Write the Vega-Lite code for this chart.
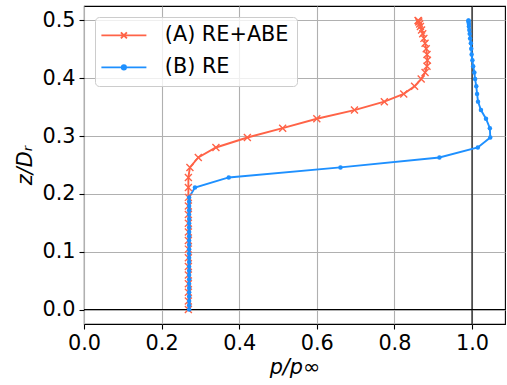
{
  "$schema": "https://vega.github.io/schema/vega-lite/v6.json",
  "width": 421,
  "height": 318,
  "autosize": {"type": "none"},
  "padding": {"left": 84, "top": 6, "right": 2, "bottom": 61},
  "background": "white",
  "config": {
    "view": {"stroke": "black", "strokeWidth": 1.1},
    "axis": {
      "domain": false,
      "grid": true,
      "gridColor": "#b0b0b0",
      "gridWidth": 1.1,
      "tickColor": "black",
      "tickSize": 5,
      "tickWidth": 1.1,
      "labelFlush": false,
      "labelFont": "DejaVu Sans",
      "labelFontSize": 20.8,
      "labelColor": "black",
      "labelPadding": 4,
      "titleFont": "DejaVu Sans",
      "titleFontSize": 20.8,
      "titleFontWeight": "normal",
      "titleFontStyle": "italic",
      "titleColor": "black"
    }
  },
  "datasets": {
    "profiles": [
      {"series": "(A) RE+ABE", "z": 0.0, "p": 0.269},
      {"series": "(A) RE+ABE", "z": 0.0149, "p": 0.269},
      {"series": "(A) RE+ABE", "z": 0.0298, "p": 0.269},
      {"series": "(A) RE+ABE", "z": 0.0448, "p": 0.269},
      {"series": "(A) RE+ABE", "z": 0.0597, "p": 0.269},
      {"series": "(A) RE+ABE", "z": 0.0746, "p": 0.269},
      {"series": "(A) RE+ABE", "z": 0.0895, "p": 0.269},
      {"series": "(A) RE+ABE", "z": 0.1045, "p": 0.269},
      {"series": "(A) RE+ABE", "z": 0.1194, "p": 0.269},
      {"series": "(A) RE+ABE", "z": 0.1343, "p": 0.269},
      {"series": "(A) RE+ABE", "z": 0.1492, "p": 0.269},
      {"series": "(A) RE+ABE", "z": 0.1642, "p": 0.269},
      {"series": "(A) RE+ABE", "z": 0.1791, "p": 0.269},
      {"series": "(A) RE+ABE", "z": 0.194, "p": 0.269},
      {"series": "(A) RE+ABE", "z": 0.211, "p": 0.269},
      {"series": "(A) RE+ABE", "z": 0.2285, "p": 0.269},
      {"series": "(A) RE+ABE", "z": 0.2458, "p": 0.273},
      {"series": "(A) RE+ABE", "z": 0.263, "p": 0.2946},
      {"series": "(A) RE+ABE", "z": 0.2803, "p": 0.34},
      {"series": "(A) RE+ABE", "z": 0.2976, "p": 0.421},
      {"series": "(A) RE+ABE", "z": 0.3137, "p": 0.512},
      {"series": "(A) RE+ABE", "z": 0.33, "p": 0.6},
      {"series": "(A) RE+ABE", "z": 0.345, "p": 0.697},
      {"series": "(A) RE+ABE", "z": 0.3596, "p": 0.774},
      {"series": "(A) RE+ABE", "z": 0.373, "p": 0.824},
      {"series": "(A) RE+ABE", "z": 0.3862, "p": 0.852},
      {"series": "(A) RE+ABE", "z": 0.3986, "p": 0.869},
      {"series": "(A) RE+ABE", "z": 0.41, "p": 0.879},
      {"series": "(A) RE+ABE", "z": 0.4207, "p": 0.884},
      {"series": "(A) RE+ABE", "z": 0.431, "p": 0.885},
      {"series": "(A) RE+ABE", "z": 0.4412, "p": 0.884},
      {"series": "(A) RE+ABE", "z": 0.451, "p": 0.882},
      {"series": "(A) RE+ABE", "z": 0.4604, "p": 0.879},
      {"series": "(A) RE+ABE", "z": 0.469, "p": 0.876},
      {"series": "(A) RE+ABE", "z": 0.4768, "p": 0.873},
      {"series": "(A) RE+ABE", "z": 0.4836, "p": 0.87},
      {"series": "(A) RE+ABE", "z": 0.4894, "p": 0.867},
      {"series": "(A) RE+ABE", "z": 0.494, "p": 0.865},
      {"series": "(A) RE+ABE", "z": 0.4973, "p": 0.863},
      {"series": "(A) RE+ABE", "z": 0.4993, "p": 0.862},
      {"series": "(A) RE+ABE", "z": 0.5, "p": 0.861},
      {"series": "(B) RE", "z": 0.0, "p": 0.271},
      {"series": "(B) RE", "z": 0.0075, "p": 0.271},
      {"series": "(B) RE", "z": 0.0149, "p": 0.271},
      {"series": "(B) RE", "z": 0.0224, "p": 0.271},
      {"series": "(B) RE", "z": 0.0298, "p": 0.271},
      {"series": "(B) RE", "z": 0.0373, "p": 0.271},
      {"series": "(B) RE", "z": 0.0448, "p": 0.271},
      {"series": "(B) RE", "z": 0.0522, "p": 0.271},
      {"series": "(B) RE", "z": 0.0597, "p": 0.271},
      {"series": "(B) RE", "z": 0.0672, "p": 0.271},
      {"series": "(B) RE", "z": 0.0746, "p": 0.271},
      {"series": "(B) RE", "z": 0.0821, "p": 0.271},
      {"series": "(B) RE", "z": 0.0895, "p": 0.271},
      {"series": "(B) RE", "z": 0.097, "p": 0.271},
      {"series": "(B) RE", "z": 0.1045, "p": 0.271},
      {"series": "(B) RE", "z": 0.1119, "p": 0.271},
      {"series": "(B) RE", "z": 0.1194, "p": 0.271},
      {"series": "(B) RE", "z": 0.1269, "p": 0.271},
      {"series": "(B) RE", "z": 0.1343, "p": 0.271},
      {"series": "(B) RE", "z": 0.1418, "p": 0.271},
      {"series": "(B) RE", "z": 0.1492, "p": 0.271},
      {"series": "(B) RE", "z": 0.1567, "p": 0.271},
      {"series": "(B) RE", "z": 0.1642, "p": 0.271},
      {"series": "(B) RE", "z": 0.1716, "p": 0.271},
      {"series": "(B) RE", "z": 0.1791, "p": 0.271},
      {"series": "(B) RE", "z": 0.1866, "p": 0.271},
      {"series": "(B) RE", "z": 0.194, "p": 0.271},
      {"series": "(B) RE", "z": 0.211, "p": 0.286},
      {"series": "(B) RE", "z": 0.2285, "p": 0.373},
      {"series": "(B) RE", "z": 0.2458, "p": 0.661},
      {"series": "(B) RE", "z": 0.263, "p": 0.916},
      {"series": "(B) RE", "z": 0.2803, "p": 1.015},
      {"series": "(B) RE", "z": 0.2976, "p": 1.047},
      {"series": "(B) RE", "z": 0.3137, "p": 1.046},
      {"series": "(B) RE", "z": 0.33, "p": 1.036},
      {"series": "(B) RE", "z": 0.345, "p": 1.023},
      {"series": "(B) RE", "z": 0.3596, "p": 1.0155},
      {"series": "(B) RE", "z": 0.373, "p": 1.013},
      {"series": "(B) RE", "z": 0.3862, "p": 1.011},
      {"series": "(B) RE", "z": 0.3986, "p": 1.008},
      {"series": "(B) RE", "z": 0.41, "p": 1.006},
      {"series": "(B) RE", "z": 0.4207, "p": 1.003},
      {"series": "(B) RE", "z": 0.431, "p": 1.001},
      {"series": "(B) RE", "z": 0.4412, "p": 0.999},
      {"series": "(B) RE", "z": 0.451, "p": 0.998},
      {"series": "(B) RE", "z": 0.4604, "p": 0.997},
      {"series": "(B) RE", "z": 0.469, "p": 0.995},
      {"series": "(B) RE", "z": 0.4768, "p": 0.994},
      {"series": "(B) RE", "z": 0.4836, "p": 0.993},
      {"series": "(B) RE", "z": 0.4894, "p": 0.992},
      {"series": "(B) RE", "z": 0.494, "p": 0.992},
      {"series": "(B) RE", "z": 0.4973, "p": 0.991},
      {"series": "(B) RE", "z": 0.4993, "p": 0.991},
      {"series": "(B) RE", "z": 0.5, "p": 0.991}
    ]
  },
  "data": {"name": "profiles"},
  "layer": [
    {
      "data": {"values": [{"p": 1.0}]},
      "mark": {"type": "rule", "color": "black", "strokeWidth": 1.1},
      "encoding": {
        "x": {"field": "p", "type": "quantitative", "scale": {"domain": [0, 1.085], "nice": false, "zero": false}}
      }
    },
    {
      "data": {"values": [{"z": 0.0}]},
      "mark": {"type": "rule", "color": "black", "strokeWidth": 1.1},
      "encoding": {
        "y": {"field": "z", "type": "quantitative", "scale": {"domain": [-0.025, 0.525], "nice": false, "zero": false}}
      }
    },
    {
      "mark": {"type": "line", "strokeWidth": 1.9, "clip": true},
      "encoding": {
        "x": {
          "field": "p", "type": "quantitative",
          "scale": {"domain": [0, 1.085], "nice": false, "zero": false},
          "axis": {"values": [0, 0.2, 0.4, 0.6, 0.8, 1.0], "format": ".1f", "title": "p/p∞", "titlePadding": 5}
        },
        "y": {
          "field": "z", "type": "quantitative",
          "scale": {"domain": [-0.025, 0.525], "nice": false, "zero": false},
          "axis": {"values": [0, 0.1, 0.2, 0.3, 0.4, 0.5], "format": ".1f", "title": "z/Dᵣ", "titlePadding": 6}
        },
        "order": {"field": "z", "type": "quantitative"},
        "color": {
          "field": "series", "type": "nominal",
          "scale": {"domain": ["(A) RE+ABE", "(B) RE"], "range": ["#ff6347", "#1e90ff"]},
          "legend": {
            "title": null,
            "orient": "top-left",
            "offset": 11,
            "padding": 8,
            "fillColor": "rgba(255,255,255,0.8)",
            "strokeColor": "#cccccc",
            "cornerRadius": 4,
            "labelFont": "DejaVu Sans",
            "labelFontSize": 20.8,
            "labelColor": "black",
            "labelOffset": 41,
            "rowPadding": 10,
            "symbolSize": 100,
            "symbolStrokeWidth": 1.9,
            "encode": {
              "symbols": {
                "update": {
                  "shape": {"signal": "datum.value === '(A) RE+ABE' ? 'M-2.4,0L6.6,0M1.5,-0.6L2.7,0.6M1.5,0.6L2.7,-0.6' : 'M-2.4,0L6.6,0M2.52,0A0.42,0.42,0,1,1,1.68,0A0.42,0.42,0,1,1,2.52,0Z'"},
                  "fill": {"signal": "datum.value === '(B) RE' ? '#1e90ff' : 'transparent'"}
                }
              }
            }
          }
        }
      }
    },
    {
      "transform": [{"filter": "datum.series === '(A) RE+ABE'"}],
      "mark": {"type": "point", "shape": "M-1,-1L1,1M-1,1L1,-1", "filled": false, "size": 49, "strokeWidth": 1.4, "color": "#ff6347", "opacity": 1},
      "encoding": {
        "x": {"field": "p", "type": "quantitative"},
        "y": {"field": "z", "type": "quantitative"}
      }
    },
    {
      "transform": [{"filter": "datum.series === '(B) RE'"}],
      "mark": {"type": "point", "shape": "circle", "filled": true, "size": 20, "color": "#1e90ff", "opacity": 1},
      "encoding": {
        "x": {"field": "p", "type": "quantitative"},
        "y": {"field": "z", "type": "quantitative"}
      }
    }
  ]
}
